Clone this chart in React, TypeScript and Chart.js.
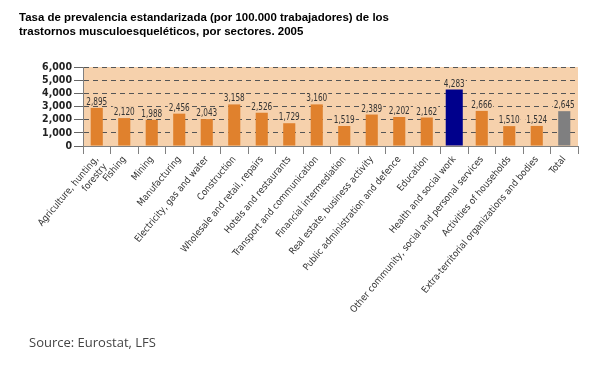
import React, { useEffect, useRef } from "react";
import { Chart, registerables } from "chart.js";

Chart.register(...registerables);

const titleLines = [
  "Tasa de prevalencia estandarizada (por 100.000 trabajadores) de los",
  "trastornos musculoesqueléticos, por sectores. 2005",
];
const sourceText = "Source: Eurostat, LFS";

const categories: (string | string[])[] = [
  ["Agriculture, hunting,", "forestry"],
  "Fishing",
  "Mining",
  "Manufacturing",
  "Electricity, gas and water",
  "Construction",
  "Wholesale and retail, repairs",
  "Hotels and restaurants",
  "Transport and communication",
  "Financial intermediation",
  "Real estate, business activity",
  "Public administration and defence",
  "Education",
  "Health and social work",
  "Other community, social and personal services",
  "Activities of households",
  "Extra-territorial organizations and bodies",
  "Total",
];

const values = [2895, 2120, 1988, 2456, 2043, 3158, 2526, 1729, 3160, 1519, 2389, 2202, 2162, 4283, 2666, 1510, 1524, 2645];

const highlightCategory = "Health and social work";
const totalCategory = "Total";

const yTicks = [0, 1000, 2000, 3000, 4000, 5000, 6000];

const ORANGE = "#E0812D";
const NAVY = "#00008C";
const GRAY = "#7F7F80";
const PEACH = "#F6D1AC";
const NARROW = '"DejaVu Sans Condensed", "Liberation Sans Narrow", sans-serif';

const labelName = (c: string | string[]) => (Array.isArray(c) ? c.join(" ") : c);
const fmt = (v: number) => v.toLocaleString("en-US");

export default function App() {
  const ref = useRef<HTMLCanvasElement | null>(null);

  useEffect(() => {
    if (!ref.current) return;
    const hiIdx = categories.findIndex((c) => labelName(c) === highlightCategory);
    const mainData = values.map((v, i) => (i === hiIdx ? null : v));
    const hiData = values.map((v, i) => (i === hiIdx ? v : null));
    const mainColors = categories.map((c) => (labelName(c) === totalCategory ? GRAY : ORANGE));

    const bgPlugin = {
      id: "bg",
      beforeDraw(chart: any) {
        const { ctx, chartArea } = chart;
        ctx.save();
        ctx.fillStyle = "#ffffff";
        ctx.fillRect(0, 0, chart.width, chart.height);
        ctx.fillStyle = PEACH;
        ctx.fillRect(chartArea.left, chartArea.top, chartArea.right - chartArea.left, chartArea.bottom - chartArea.top);
        ctx.restore();
      },
    };

    const valueLabels = {
      id: "valueLabels",
      afterDatasetsDraw(chart: any) {
        const { ctx } = chart;
        ctx.save();
        ctx.font = `10px ${NARROW}`;
        ctx.textAlign = "center";
        ctx.textBaseline = "alphabetic";
        chart.data.datasets.forEach((ds: any, di: number) => {
          const meta = chart.getDatasetMeta(di);
          meta.data.forEach((bar: any, i: number) => {
            const v = ds.data[i];
            if (v == null) return;
            const text = fmt(v);
            const w = Math.min(ctx.measureText(text).width, 21);
            const yb = bar.y - 3;
            ctx.fillStyle = PEACH;
            ctx.fillRect(bar.x - w / 2 - 1, yb - 9, w + 2, 10);
            ctx.fillStyle = "#333333";
            ctx.fillText(text, bar.x, yb, 21);
          });
        });
        ctx.restore();
      },
    };

    const textPlugin = {
      id: "texts",
      afterDraw(chart: any) {
        const { ctx } = chart;
        ctx.save();
        ctx.fillStyle = "#000000";
        ctx.textAlign = "left";
        ctx.textBaseline = "alphabetic";
        ctx.font = 'bold 11.5px "Liberation Sans", Arial, sans-serif';
        ctx.fillText(titleLines[0], 19, 21, 370);
        ctx.fillText(titleLines[1], 19, 35, 368);
        ctx.font = '13px "Open Sans", "Noto Sans", sans-serif';
        ctx.fillStyle = "#444444";
        ctx.fillText(sourceText, 29, 347, 127);
        ctx.restore();
      },
    };

    const chart = new Chart(ref.current, {
      type: "bar",
      data: {
        labels: categories,
        datasets: [
          {
            data: mainData,
            backgroundColor: mainColors,
            borderWidth: 0,
            barPercentage: 0.44,
            categoryPercentage: 1,
            grouped: false,
          } as any,
          {
            data: hiData,
            backgroundColor: NAVY,
            borderWidth: 0,
            barPercentage: 0.62,
            categoryPercentage: 1,
            grouped: false,
          } as any,
        ],
      },
      options: {
        animation: false,
        responsive: false,
        devicePixelRatio: 1,
        layout: { padding: { top: 67, right: 24, left: 0, bottom: 0 } },
        plugins: {
          legend: { display: false },
          tooltip: { enabled: false },
          title: { display: false },
        },
        scales: {
          x: {
            offset: true,
            grid: {
              display: true,
              offset: true,
              drawOnChartArea: false,
              drawTicks: true,
              tickLength: 8,
              color: "#808080",
            },
            border: { display: true, color: "#808080", width: 1 },
            ticks: {
              autoSkip: false,
              minRotation: 50,
              maxRotation: 50,
              padding: 0,
              color: "#333333",
              font: { family: NARROW, size: 9.5 },
            },
            afterFit: (s: any) => {
              s.height = 220;
            },
          },
          y: {
            min: yTicks[0],
            max: yTicks[yTicks.length - 1],
            afterBuildTicks: (s: any) => {
              s.ticks = yTicks.map((v) => ({ value: v }));
            },
            ticks: {
              autoSkip: false,
              padding: 2,
              color: "#222222",
              font: { family: NARROW, size: 10.5, weight: "bold" },
              callback: (v: any) => fmt(Number(v)),
            },
            grid: { color: "#555555", tickLength: 9, drawTicks: true, tickColor: "#666666" },
            border: { display: true, color: "#808080", dash: [5, 4] },
            afterFit: (s: any) => {
              s.width = 83;
            },
          },
        },
      } as any,
      plugins: [bgPlugin, valueLabels, textPlugin],
    });
    return () => chart.destroy();
  }, []);

  return (
    <div style={{ position: "absolute", left: 0, top: 0, width: 602, height: 366, background: "#fff" }}>
      <canvas ref={ref} width={602} height={366} style={{ display: "block" }} />
    </div>
  );
}
